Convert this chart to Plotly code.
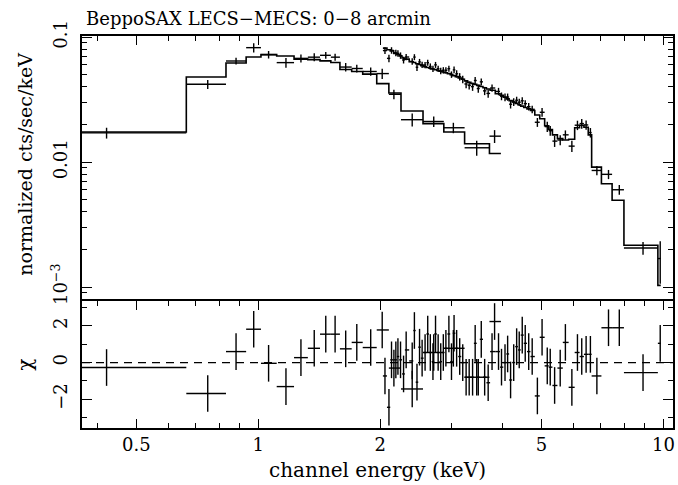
import math
import plotly.graph_objects as go

# ---------------- LECS (0.4 - 4 keV) ----------------
lecs_e = [0.422, 0.750, 0.881, 0.974, 1.060, 1.170, 1.274, 1.374, 1.467, 1.547,
          1.643, 1.750, 1.894, 2.022, 2.161, 2.398, 2.710, 3.030, 3.460, 3.830]
lecs_lo = [0.30, 0.664, 0.832, 0.933, 1.015, 1.11, 1.225, 1.325, 1.42, 1.51,
           1.59, 1.70, 1.81, 1.96, 2.10, 2.25, 2.55, 2.87, 3.23, 3.72]
lecs_hi = [0.664, 0.832, 0.933, 1.015, 1.11, 1.225, 1.325, 1.42, 1.51, 1.59,
           1.70, 1.81, 1.96, 2.10, 2.25, 2.55, 2.87, 3.23, 3.72, 3.97]
lecs_data = [0.0171, 0.0419, 0.0643, 0.0822, 0.0723, 0.0624, 0.0675, 0.0690, 0.0714, 0.0690,
             0.0575, 0.0560, 0.0530, 0.0510, 0.0348, 0.0218, 0.0211, 0.0188, 0.0130, 0.0161]
lecs_err = [0.0017, 0.0035, 0.0040, 0.0071, 0.0050, 0.0055, 0.0050, 0.0050, 0.0045, 0.0045,
            0.0045, 0.0040, 0.0040, 0.0048, 0.0030, 0.0026, 0.0020, 0.0018, 0.0018, 0.0019]
lecs_model = [0.0174, 0.0479, 0.0620, 0.0692, 0.0723, 0.0705, 0.0665, 0.0660, 0.0645, 0.0625,
              0.0550, 0.0530, 0.0505, 0.0424, 0.0357, 0.0256, 0.0203, 0.0174, 0.0140, 0.0117]
lecs_resid = [-0.27, -1.69, 0.60, 1.82, -0.04, -1.31, 0.27, 0.78, 1.55, 1.55,
              0.75, 1.10, 0.82, 1.78, -0.30, -1.44, 0.55, 0.78, -0.80, 2.24]

# ---------------- MECS (2 - 10 keV) ----------------
mecs_e = [2.054, 2.101, 2.132, 2.185, 2.211, 2.244, 2.283, 2.317, 2.398, 2.428,
          2.464, 2.500, 2.537, 2.580, 2.619, 2.658, 2.698, 2.738, 2.779, 2.820,
          2.862, 2.904, 2.954, 2.998, 3.042, 3.087, 3.141, 3.196, 3.258, 3.315,
          3.380, 3.430, 3.491, 3.551, 3.620, 3.693, 3.775, 3.917, 3.984, 4.064,
          4.125, 4.195, 4.270, 4.342, 4.406, 4.482, 4.559, 4.650, 4.743, 4.885,
          5.017, 5.167, 5.255, 5.388, 5.562, 5.728, 5.943, 6.135, 6.286, 6.444,
          6.603,
          6.851, 7.319, 7.782, 8.906, 9.820]
mecs_data = [0.0779, 0.0675, 0.0782, 0.0747, 0.0739, 0.0711, 0.0655, 0.0692, 0.0638, 0.0691,
             0.0573, 0.0632, 0.0599, 0.0597, 0.0623, 0.0581, 0.0557, 0.0599, 0.0558, 0.0535,
             0.0542, 0.0542, 0.0558, 0.0501, 0.0546, 0.0508, 0.0481, 0.0459, 0.0421, 0.0411,
             0.0401, 0.0449, 0.0387, 0.0438, 0.0371, 0.0354, 0.0391, 0.0367, 0.0336, 0.0330,
             0.0331, 0.0290, 0.0302, 0.0312, 0.0301, 0.0309, 0.0293, 0.0277, 0.0264, 0.0208,
             0.0250, 0.0192, 0.0178, 0.0147, 0.0150, 0.0165, 0.0134, 0.0197, 0.0203, 0.0198,
             0.0172,
             0.00856, 0.00797, 0.0060, 0.00205, 0.00169]
mecs_err = [0.0049, 0.0047, 0.0047, 0.0044, 0.0044, 0.0042, 0.0041, 0.0040, 0.0038, 0.0038,
            0.0037, 0.0036, 0.0035, 0.0035, 0.0034, 0.0034, 0.0033, 0.0033, 0.0032, 0.0032,
            0.0032, 0.0031, 0.0031, 0.0030, 0.0034, 0.0034, 0.0033, 0.0032, 0.0031, 0.0030,
            0.0030, 0.0029, 0.0029, 0.0028, 0.0028, 0.0027, 0.0026, 0.0025, 0.0024, 0.0023,
            0.0022, 0.0022, 0.0021, 0.0021, 0.0020, 0.0020, 0.0019, 0.0019, 0.0018, 0.0017,
            0.0020, 0.0018, 0.0016, 0.0015, 0.0014, 0.0014, 0.0014, 0.0017, 0.0018, 0.0017,
            0.0015,
            0.00073, 0.00067, 0.00054, 0.00024, 0.00063]
mecs_model = [0.0815, 0.0790, 0.0775, 0.0740, 0.0725, 0.0705, 0.0680, 0.0665, 0.0635, 0.0625,
              0.0612, 0.0602, 0.0590, 0.0578, 0.0570, 0.0562, 0.0555, 0.0548, 0.0540, 0.0533,
              0.0525, 0.0518, 0.0510, 0.0500, 0.0491, 0.0482, 0.0470, 0.0459, 0.0446, 0.0435,
              0.0425, 0.0418, 0.0410, 0.0402, 0.0393, 0.0384, 0.0375, 0.0352, 0.0342, 0.0330,
              0.0320, 0.0310, 0.0302, 0.0294, 0.0287, 0.0280, 0.0273, 0.0266, 0.0258, 0.0238,
              0.0222, 0.0195, 0.0182, 0.0165, 0.0154, 0.0150, 0.0152, 0.0188, 0.0197, 0.0190,
              0.0165,
              0.0091, 0.00671, 0.00494, 0.00216, 0.00103]
mecs_resid = [-0.73, -2.44, 0.15, 0.15, 0.33, 0.15, -0.62, 0.69, 0.09, 1.75,
              -1.07, 0.84, 0.24, 0.55, 1.56, 0.55, 0.05, 1.56, 0.55, 0.05,
              0.55, 0.78, 1.56, 0.05, 1.60, 0.78, 0.33, 0.00, -0.80, -0.80,
              -0.80, 1.05, -0.80, 1.27, -0.80, -1.10, 0.60, 0.60, -0.25, 0.00,
              0.47, -0.95, 0.00, 0.87, 0.69, 1.50, 1.05, 0.60, 0.33, -1.82,
              1.38, -0.18, -0.25, -1.25, -0.30, 1.10, -1.35, 0.55, 0.33, 0.45,
              0.45,
              -0.73, 1.90, 1.90, -0.55, 1.05]
mecs_first_edge = 2.03
mecs_n_dense = 61
mecs_tail_edges = [6.65, 7.03, 7.47, 7.99, 9.69, 9.85]

# ---------------- ticks ----------------
x_major = [0.5, 1, 2, 5, 10]
x_major_text = ["0.5", "1", "2", "5", "10"]
x_minor = [0.4, 0.6, 0.7, 0.8, 0.9, 3, 4, 6, 7, 8, 9]
y_major = [0.001, 0.01, 0.1]
y_major_text = ["10<sup>\u22123</sup>", "0.01", "0.1"]
y_minor = [m * d for d in (0.0001, 0.001, 0.01) for m in range(2, 10)]
r_major = [-2, 0, 2]
r_major_text = ["\u22122", "0", "2"]
r_minor = [-3, -1, 1, 3]

# bin edges of MECS (dense part: geometric mid-points between channels)
dense = mecs_e[:mecs_n_dense]
mecs_edges = [mecs_first_edge] + [math.sqrt(dense[i] * dense[i + 1]) for i in range(len(dense) - 1)] + mecs_tail_edges
mecs_lo = mecs_edges[:-1]
mecs_hi = mecs_edges[1:]

FONT = "DejaVu Serif"
BLACK = "black"
CLEAR = "rgba(0,0,0,0)"
LW = 1.4

fig = go.Figure()


def add_series(e, lo, hi, data, err, model, resid):
    ex_plus = [h - c for h, c in zip(hi, e)]
    ex_minus = [c - l for l, c in zip(lo, e)]
    fig.add_trace(go.Scatter(
        x=e, y=data, mode="markers", marker=dict(size=2, color=CLEAR),
        error_x=dict(type="data", array=ex_plus, arrayminus=ex_minus, symmetric=False,
                     width=0, thickness=LW, color=BLACK),
        error_y=dict(type="data", array=err, width=0, thickness=LW, color=BLACK),
        xaxis="x", yaxis="y", showlegend=False, hoverinfo="skip"))
    edges = list(lo) + [hi[-1]]
    fig.add_trace(go.Scatter(
        x=edges, y=list(model) + [model[-1]], mode="lines", line_shape="hv",
        line=dict(color=BLACK, width=LW + 0.2), xaxis="x", yaxis="y",
        showlegend=False, hoverinfo="skip"))
    fig.add_trace(go.Scatter(
        x=e, y=resid, mode="markers", marker=dict(size=2, color=CLEAR),
        error_x=dict(type="data", array=ex_plus, arrayminus=ex_minus, symmetric=False,
                     width=0, thickness=LW, color=BLACK),
        error_y=dict(type="constant", value=1, width=0, thickness=LW, color=BLACK),
        xaxis="x2", yaxis="y2", showlegend=False, hoverinfo="skip"))


add_series(lecs_e, lecs_lo, lecs_hi, lecs_data, lecs_err, lecs_model, lecs_resid)
add_series(mecs_e, mecs_lo, mecs_hi, mecs_data, mecs_err, mecs_model, mecs_resid)

xr = [math.log10(0.367), math.log10(10.56)]
TF = dict(family=FONT, size=18, color=BLACK)
base = dict(linecolor=BLACK, linewidth=1.5, ticks="inside", tickcolor=BLACK, tickwidth=1.3,
            showgrid=False, zeroline=False, tickfont=TF)


def minor(vals):
    return dict(tickmode="array", tickvals=vals, ticklen=5, ticks="inside",
                tickcolor=BLACK, tickwidth=1.3)


W, H = 678, 485
ML, MR, MT, MB = 82, 3, 36, 57
PH = H - MT - MB
split = 127 / PH

fig.update_layout(
    width=W, height=H, margin=dict(l=ML, r=MR, t=MT, b=MB),
    paper_bgcolor="white", plot_bgcolor="white",
    # top border of the upper panel (line + inward ticks)
    xaxis=dict(type="log", range=xr, domain=[0, 1], anchor="y", side="top",
               showline=True, mirror=False, showticklabels=False,
               tickmode="array", tickvals=x_major, ticklen=9, minor=minor(x_minor), **base),
    # inward ticks on the bottom edge of the upper panel (no line: separator comes from x2)
    xaxis3=dict(type="log", range=xr, overlaying="x", anchor="y", side="bottom",
                showline=False, showticklabels=False,
                tickmode="array", tickvals=x_major, ticklen=9, minor=minor(x_minor), **base),
    yaxis=dict(type="log", range=[math.log10(7.73e-4), math.log10(0.1019)],
               domain=[split, 1], anchor="x", showline=True, mirror="allticks",
               tickmode="array", tickvals=y_major, ticktext=y_major_text, ticklen=10,
               tickangle=-90, ticklabelstandoff=6, minor=minor(y_minor), **base),
    xaxis2=dict(type="log", range=xr, domain=[0, 1], anchor="y2", showline=True,
                mirror="allticks",
                tickmode="array", tickvals=x_major, ticktext=x_major_text, ticklen=9,
                ticklabelstandoff=0, minor=minor(x_minor), **base),
    yaxis2=dict(range=[-3.57, 3.36], domain=[0, split], anchor="x2", showline=True,
                mirror="allticks",
                tickmode="array", tickvals=r_major, ticktext=r_major_text, ticklen=10,
                tickangle=-90, ticklabelstandoff=6, minor=minor(r_minor), **base),
    shapes=[dict(type="line", xref="x2 domain", x0=0, x1=1, yref="y2", y0=0, y1=0,
                 line=dict(color=BLACK, width=1.3, dash="8px,6px"), layer="below")],
    annotations=[
        dict(text="BeppoSAX LECS\u2212MECS: 0\u22128 arcmin", xref="paper", yref="paper",
             x=0.003, y=1.0 + 18 / PH, xanchor="left", yanchor="middle", showarrow=False,
             font=dict(family=FONT, size=18, color=BLACK)),
        dict(text="channel energy (keV)", xref="paper", yref="paper",
             x=0.5, y=-(470 - (H - MB)) / PH, xanchor="center", yanchor="middle",
             showarrow=False, font=dict(family=FONT, size=20, color=BLACK)),
        dict(text="normalized cts/sec/keV", xref="paper", yref="paper",
             x=-(ML - 24) / (W - ML - MR), y=split + (1 - split) / 2 + 0.01, xanchor="center",
             yanchor="middle", textangle=-90, showarrow=False,
             font=dict(family=FONT, size=19, color=BLACK)),
        dict(text="\u03c7", xref="paper", yref="paper",
             x=-(ML - 24) / (W - ML - MR), y=split / 2, xanchor="center",
             yanchor="middle", textangle=-90, showarrow=False,
             font=dict(family=FONT, size=20, color=BLACK)),
    ],
)

fig.write_html("out.html")
